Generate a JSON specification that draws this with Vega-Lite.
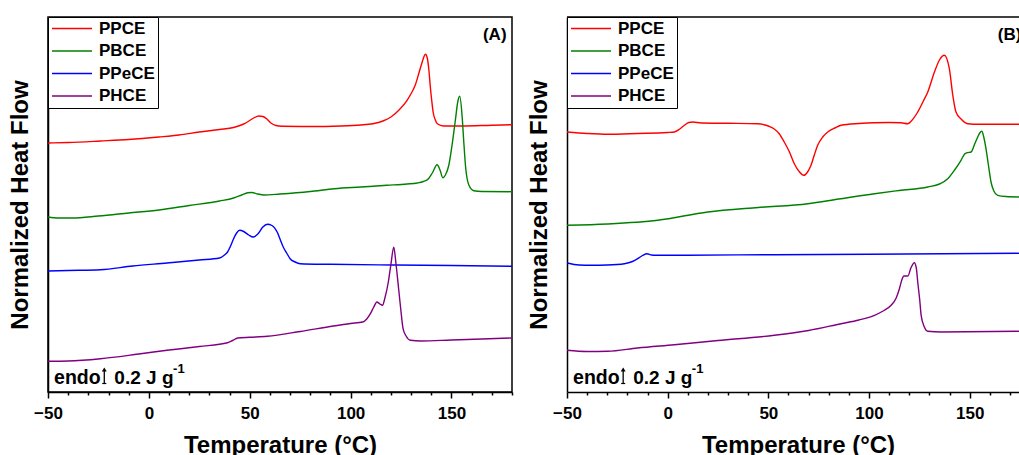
{
"$schema": "https://vega.github.io/schema/vega-lite/v6.json",
"padding": {"left": 7, "top": 15, "right": 0, "bottom": 0},
"background": "white",
"config": {"font": "Liberation Sans", "view": {"stroke": "black", "strokeWidth": 1.5}},
"datasets": {
"A": [
{"s":"PPCE","T":-50,"hf":249},{"s":"PPCE","T":-40,"hf":249.5},{"s":"PPCE","T":-24,"hf":251},{"s":"PPCE","T":-10,"hf":252.5},{"s":"PPCE","T":5,"hf":255},{"s":"PPCE","T":15,"hf":257},{"s":"PPCE","T":25,"hf":260},{"s":"PPCE","T":35,"hf":262.5},{"s":"PPCE","T":42,"hf":264.5},{"s":"PPCE","T":47,"hf":268},{"s":"PPCE","T":50,"hf":271.5},{"s":"PPCE","T":52,"hf":274},{"s":"PPCE","T":54.5,"hf":276},{"s":"PPCE","T":56.5,"hf":275.5},{"s":"PPCE","T":58.5,"hf":273},{"s":"PPCE","T":60.5,"hf":269},{"s":"PPCE","T":63,"hf":266.5},{"s":"PPCE","T":66,"hf":265.7},{"s":"PPCE","T":80,"hf":265.5},{"s":"PPCE","T":95,"hf":266},{"s":"PPCE","T":105,"hf":267},{"s":"PPCE","T":111,"hf":268.3},{"s":"PPCE","T":116,"hf":271},{"s":"PPCE","T":120,"hf":275},{"s":"PPCE","T":124,"hf":282},{"s":"PPCE","T":128,"hf":291.7},{"s":"PPCE","T":130,"hf":298.5},{"s":"PPCE","T":132,"hf":306.7},{"s":"PPCE","T":134,"hf":320},{"s":"PPCE","T":135.5,"hf":330},{"s":"PPCE","T":136.5,"hf":336},{"s":"PPCE","T":137.1,"hf":337.7},{"s":"PPCE","T":138,"hf":334},{"s":"PPCE","T":138.8,"hf":322},{"s":"PPCE","T":139.6,"hf":303.3},{"s":"PPCE","T":140.3,"hf":290},{"s":"PPCE","T":140.9,"hf":280},{"s":"PPCE","T":142,"hf":272},{"s":"PPCE","T":143,"hf":268.3},{"s":"PPCE","T":146,"hf":266},{"s":"PPCE","T":155,"hf":266},{"s":"PPCE","T":170,"hf":266.8},{"s":"PPCE","T":180,"hf":267.3},
{"s":"PBCE","T":-50,"hf":175},{"s":"PBCE","T":-45,"hf":174},{"s":"PBCE","T":-38,"hf":174},{"s":"PBCE","T":-25,"hf":176},{"s":"PBCE","T":-10,"hf":179},{"s":"PBCE","T":5,"hf":182},{"s":"PBCE","T":20,"hf":186.5},{"s":"PBCE","T":35,"hf":191},{"s":"PBCE","T":42,"hf":194},{"s":"PBCE","T":46,"hf":197},{"s":"PBCE","T":49,"hf":199.3},{"s":"PBCE","T":51,"hf":199.5},{"s":"PBCE","T":54,"hf":198},{"s":"PBCE","T":57,"hf":197},{"s":"PBCE","T":65,"hf":198},{"s":"PBCE","T":80,"hf":200.5},{"s":"PBCE","T":92,"hf":203.3},{"s":"PBCE","T":105,"hf":205},{"s":"PBCE","T":118,"hf":206.7},{"s":"PBCE","T":128,"hf":208},{"s":"PBCE","T":133,"hf":209},{"s":"PBCE","T":136,"hf":210.5},{"s":"PBCE","T":138.6,"hf":213.3},{"s":"PBCE","T":140.5,"hf":219},{"s":"PBCE","T":142.9,"hf":227.3},{"s":"PBCE","T":144.3,"hf":222},{"s":"PBCE","T":145.7,"hf":214.3},{"s":"PBCE","T":147,"hf":217},{"s":"PBCE","T":148.7,"hf":227},{"s":"PBCE","T":150.3,"hf":247},{"s":"PBCE","T":152,"hf":273},{"s":"PBCE","T":153.1,"hf":290},{"s":"PBCE","T":154.1,"hf":295.7},{"s":"PBCE","T":155.3,"hf":275},{"s":"PBCE","T":156.1,"hf":250},{"s":"PBCE","T":157,"hf":225},{"s":"PBCE","T":158.6,"hf":207},{"s":"PBCE","T":161.1,"hf":201.3},{"s":"PBCE","T":165,"hf":200.5},{"s":"PBCE","T":180,"hf":200.3},
{"s":"PPeCE","T":-50,"hf":121},{"s":"PPeCE","T":-40,"hf":121.5},{"s":"PPeCE","T":-24,"hf":122.3},{"s":"PPeCE","T":-8,"hf":126},{"s":"PPeCE","T":9,"hf":129},{"s":"PPeCE","T":25,"hf":132},{"s":"PPeCE","T":35,"hf":134},{"s":"PPeCE","T":37.5,"hf":137},{"s":"PPeCE","T":39,"hf":140},{"s":"PPeCE","T":40.5,"hf":146},{"s":"PPeCE","T":42,"hf":153.3},{"s":"PPeCE","T":43.5,"hf":159},{"s":"PPeCE","T":45,"hf":161.7},{"s":"PPeCE","T":47,"hf":160.5},{"s":"PPeCE","T":49.5,"hf":157},{"s":"PPeCE","T":51.7,"hf":155},{"s":"PPeCE","T":54,"hf":158},{"s":"PPeCE","T":56.5,"hf":165},{"s":"PPeCE","T":58.7,"hf":167.7},{"s":"PPeCE","T":61,"hf":166.5},{"s":"PPeCE","T":63.6,"hf":160},{"s":"PPeCE","T":65,"hf":153},{"s":"PPeCE","T":66.6,"hf":145},{"s":"PPeCE","T":68.3,"hf":139},{"s":"PPeCE","T":70,"hf":133.3},{"s":"PPeCE","T":72.5,"hf":130},{"s":"PPeCE","T":75,"hf":128.3},{"s":"PPeCE","T":90,"hf":127.7},{"s":"PPeCE","T":120,"hf":127},{"s":"PPeCE","T":150,"hf":126.5},{"s":"PPeCE","T":180,"hf":125.7},
{"s":"PHCE","T":-50,"hf":30.7},{"s":"PHCE","T":-40,"hf":31},{"s":"PHCE","T":-24,"hf":33.3},{"s":"PHCE","T":-5,"hf":38},{"s":"PHCE","T":9,"hf":41.7},{"s":"PHCE","T":25,"hf":45.5},{"s":"PHCE","T":39,"hf":49.3},{"s":"PHCE","T":41.5,"hf":51.5},{"s":"PHCE","T":44,"hf":54},{"s":"PHCE","T":50,"hf":54.7},{"s":"PHCE","T":58.7,"hf":55.7},{"s":"PHCE","T":75,"hf":60.5},{"s":"PHCE","T":91.5,"hf":66},{"s":"PHCE","T":100,"hf":68.5},{"s":"PHCE","T":106,"hf":70},{"s":"PHCE","T":108,"hf":73},{"s":"PHCE","T":109.8,"hf":78.3},{"s":"PHCE","T":111.5,"hf":85},{"s":"PHCE","T":113,"hf":90},{"s":"PHCE","T":114.5,"hf":88},{"s":"PHCE","T":115.8,"hf":86.7},{"s":"PHCE","T":117,"hf":94},{"s":"PHCE","T":118.7,"hf":110},{"s":"PHCE","T":120,"hf":128},{"s":"PHCE","T":121.4,"hf":144.7},{"s":"PHCE","T":122.5,"hf":128},{"s":"PHCE","T":123.8,"hf":103.3},{"s":"PHCE","T":125,"hf":80},{"s":"PHCE","T":126,"hf":63.3},{"s":"PHCE","T":127.5,"hf":56},{"s":"PHCE","T":129.6,"hf":51.7},{"s":"PHCE","T":135,"hf":51},{"s":"PHCE","T":150,"hf":52},{"s":"PHCE","T":180,"hf":54}
],
"B": [
{"s":"PPCE","T":-50,"hf":260},{"s":"PPCE","T":-40,"hf":258.5},{"s":"PPCE","T":-29.8,"hf":257.7},{"s":"PPCE","T":-15,"hf":258.5},{"s":"PPCE","T":0,"hf":259.5},{"s":"PPCE","T":3.3,"hf":260},{"s":"PPCE","T":6,"hf":263},{"s":"PPCE","T":8.3,"hf":266.7},{"s":"PPCE","T":10.5,"hf":269.5},{"s":"PPCE","T":12.4,"hf":270},{"s":"PPCE","T":16.6,"hf":269},{"s":"PPCE","T":30,"hf":268.7},{"s":"PPCE","T":44.7,"hf":268.3},{"s":"PPCE","T":50,"hf":266},{"s":"PPCE","T":52.8,"hf":263.3},{"s":"PPCE","T":55.5,"hf":258},{"s":"PPCE","T":57.9,"hf":250},{"s":"PPCE","T":60.5,"hf":240},{"s":"PPCE","T":62.9,"hf":228.3},{"s":"PPCE","T":65.5,"hf":220},{"s":"PPCE","T":67.6,"hf":216.7},{"s":"PPCE","T":69.5,"hf":220},{"s":"PPCE","T":71.2,"hf":226.7},{"s":"PPCE","T":73,"hf":238},{"s":"PPCE","T":74.5,"hf":246.7},{"s":"PPCE","T":77,"hf":255},{"s":"PPCE","T":79.5,"hf":260},{"s":"PPCE","T":83,"hf":264},{"s":"PPCE","T":86.1,"hf":266.7},{"s":"PPCE","T":95,"hf":268.5},{"s":"PPCE","T":102.7,"hf":269.3},{"s":"PPCE","T":110,"hf":269.5},{"s":"PPCE","T":115.9,"hf":269.3},{"s":"PPCE","T":119.2,"hf":268.3},{"s":"PPCE","T":121,"hf":271},{"s":"PPCE","T":124.2,"hf":280},{"s":"PPCE","T":127,"hf":291},{"s":"PPCE","T":129.2,"hf":300},{"s":"PPCE","T":132.5,"hf":320},{"s":"PPCE","T":135,"hf":332},{"s":"PPCE","T":137.4,"hf":336.7},{"s":"PPCE","T":139.9,"hf":323.3},{"s":"PPCE","T":141.6,"hf":297},{"s":"PPCE","T":143.2,"hf":280},{"s":"PPCE","T":145.7,"hf":273},{"s":"PPCE","T":149.1,"hf":268.3},{"s":"PPCE","T":155,"hf":267.7},{"s":"PPCE","T":175,"hf":267.7},
{"s":"PBCE","T":-50,"hf":166.7},{"s":"PBCE","T":-30,"hf":168},{"s":"PBCE","T":-4.9,"hf":171.7},{"s":"PBCE","T":19.9,"hf":180},{"s":"PBCE","T":45,"hf":184.5},{"s":"PBCE","T":69.6,"hf":188.3},{"s":"PBCE","T":85,"hf":193},{"s":"PBCE","T":102.7,"hf":198.3},{"s":"PBCE","T":115,"hf":201.5},{"s":"PBCE","T":129.2,"hf":205},{"s":"PBCE","T":135,"hf":208},{"s":"PBCE","T":139.1,"hf":213.3},{"s":"PBCE","T":142.5,"hf":222},{"s":"PBCE","T":145.7,"hf":231.7},{"s":"PBCE","T":147.5,"hf":238},{"s":"PBCE","T":148.7,"hf":239.3},{"s":"PBCE","T":150.7,"hf":240},{"s":"PBCE","T":152.3,"hf":247},{"s":"PBCE","T":154,"hf":255},{"s":"PBCE","T":155,"hf":259},{"s":"PBCE","T":156,"hf":260.7},{"s":"PBCE","T":157,"hf":255},{"s":"PBCE","T":158.1,"hf":243.3},{"s":"PBCE","T":159.3,"hf":227},{"s":"PBCE","T":160.6,"hf":210},{"s":"PBCE","T":162,"hf":201},{"s":"PBCE","T":163.9,"hf":196.7},{"s":"PBCE","T":168,"hf":195.5},{"s":"PBCE","T":175,"hf":195},
{"s":"PPeCE","T":-50,"hf":129},{"s":"PPeCE","T":-44,"hf":127},{"s":"PPeCE","T":-38.1,"hf":126.7},{"s":"PPeCE","T":-30,"hf":127},{"s":"PPeCE","T":-21.5,"hf":128.3},{"s":"PPeCE","T":-17.5,"hf":130.5},{"s":"PPeCE","T":-14.9,"hf":133.3},{"s":"PPeCE","T":-12.5,"hf":136.5},{"s":"PPeCE","T":-10.3,"hf":138.3},{"s":"PPeCE","T":-8,"hf":137},{"s":"PPeCE","T":-5.8,"hf":136.7},{"s":"PPeCE","T":10,"hf":136.8},{"s":"PPeCE","T":53,"hf":137.3},{"s":"PPeCE","T":100,"hf":137.7},{"s":"PPeCE","T":175,"hf":138.7},
{"s":"PHCE","T":-50,"hf":41.7},{"s":"PHCE","T":-40,"hf":40.5},{"s":"PHCE","T":-29.8,"hf":40.7},{"s":"PHCE","T":-15,"hf":44},{"s":"PHCE","T":3.3,"hf":47.3},{"s":"PHCE","T":25,"hf":51.5},{"s":"PHCE","T":53,"hf":56.7},{"s":"PHCE","T":70,"hf":61.5},{"s":"PHCE","T":86.1,"hf":68.3},{"s":"PHCE","T":95,"hf":72},{"s":"PHCE","T":102.7,"hf":76.7},{"s":"PHCE","T":107,"hf":81},{"s":"PHCE","T":111,"hf":86.7},{"s":"PHCE","T":113.5,"hf":94},{"s":"PHCE","T":115.1,"hf":103.3},{"s":"PHCE","T":116.3,"hf":112},{"s":"PHCE","T":117.3,"hf":116},{"s":"PHCE","T":119.3,"hf":116},{"s":"PHCE","T":120.8,"hf":124},{"s":"PHCE","T":122.5,"hf":129.3},{"s":"PHCE","T":123.5,"hf":124},{"s":"PHCE","T":124.2,"hf":110},{"s":"PHCE","T":125.2,"hf":92},{"s":"PHCE","T":125.9,"hf":76.7},{"s":"PHCE","T":127.5,"hf":65},{"s":"PHCE","T":129.2,"hf":60.7},{"s":"PHCE","T":135.8,"hf":60},{"s":"PHCE","T":175,"hf":60.7}
]
},
"hconcat": [
{
"width": 464, "height": 375,
"resolve": {"axis": {"x": "independent"}},
"layer": [
{
"data": {"name": "A"},
"mark": {"type": "line", "interpolate": "monotone", "strokeWidth": 1.4},
"encoding": {
"x": {"field": "T", "type": "quantitative", "scale": {"domain": [-50, 180], "nice": false, "zero": false},
"axis": {"orient": "bottom", "title": "Temperature (°C)", "values": [-50, 0, 50, 100, 150], "labelFlush": false, "labelOverlap": false,
"labelFontSize": 17, "labelFontWeight": "bold", "labelColor": "black", "labelPadding": 7, "tickSize": 6,
"tickColor": "black", "tickWidth": 1.5, "domainColor": "black", "domainWidth": 1.5, "grid": false,
"titleFontSize": 24, "titleFontWeight": "bold", "titleColor": "black", "titlePadding": 12}},
"y": {"field": "hf", "type": "quantitative", "scale": {"domain": [0, 375], "nice": false, "zero": false},
"axis": {"title": "Normalized Heat Flow", "labels": false, "ticks": false, "grid": false, "domainColor": "black", "domainWidth": 1.5,
"titleFontSize": 24, "titleFontWeight": "bold", "titleColor": "black", "titlePadding": 16}},
"color": {"field": "s", "type": "nominal", "scale": {"domain": ["PPCE","PBCE","PPeCE","PHCE"], "range": ["#ff0000","#008000","#0000ff","#800080"]},
"legend": {"title": null, "orient": "top-left", "offset": 0, "symbolType": "stroke", "symbolSize": 1600, "symbolStrokeWidth": 1.5, "clipHeight": 17,
"labelFontSize": 17, "labelFontWeight": "bold", "labelColor": "black", "labelOffset": 6, "rowPadding": 4.5, "padding": 3,
"strokeColor": "black", "fillColor": "white"}}
}
},
{"data": {"values": [{}]}, "mark": {"type": "text", "text": "endo", "align": "left", "baseline": "alphabetic", "fontSize": 19.5, "fontWeight": "bold", "color": "black"},
"encoding": {"x": {"datum": -47, "axis": {"orient": "bottom", "values": [-40,-30,-20,-10,10,20,30,40,60,70,80,90,110,120,130,140,160,170,180], "labels": false, "domain": false, "grid": false, "title": null, "tickSize": 3, "tickColor": "black", "tickWidth": 1.5}}, "y": {"datum": 8.3}}},
{"data": {"values": [{}]}, "mark": {"type": "text", "text": "(A)", "align": "right", "baseline": "middle", "fontSize": 17, "fontWeight": "bold", "color": "black"},
"encoding": {"x": {"datum": 177.3, "axis": null}, "y": {"datum": 357}}},
{"data": {"values": [{}]}, "mark": {"type": "rule", "color": "black", "strokeWidth": 1.3},
"encoding": {"x": {"datum": -22.1, "axis": null}, "y": {"datum": 8.3}, "y2": {"datum": 22}}},
{"data": {"values": [{}]}, "mark": {"type": "rule", "color": "black", "strokeWidth": 1.2},
"encoding": {"x": {"datum": -23.1, "axis": null}, "x2": {"datum": -21.1}, "y": {"datum": 8.5}}},
{"data": {"values": [{}]}, "mark": {"type": "point", "shape": "triangle-up", "filled": true, "size": 24, "color": "black", "opacity": 1},
"encoding": {"x": {"datum": -22.1, "axis": null}, "y": {"datum": 22.5}}},
{"data": {"values": [{}]}, "mark": {"type": "text", "text": "0.2 J g", "align": "left", "baseline": "alphabetic", "fontSize": 19, "fontWeight": "bold", "color": "black"},
"encoding": {"x": {"datum": -17.1, "axis": null}, "y": {"datum": 8.3}}},
{"data": {"values": [{}]}, "mark": {"type": "text", "text": "-1", "align": "left", "baseline": "alphabetic", "fontSize": 13, "fontWeight": "bold", "color": "black"},
"encoding": {"x": {"datum": 12, "axis": null}, "y": {"datum": 19}}}
]
},
{
"width": 452, "height": 375,
"view": {"stroke": null},
"resolve": {"axis": {"x": "independent"}},
"layer": [
{
"data": {"name": "B"},
"mark": {"type": "line", "interpolate": "monotone", "strokeWidth": 1.4},
"encoding": {
"x": {"field": "T", "type": "quantitative", "scale": {"domain": [-50, 174.5], "nice": false, "zero": false},
"axis": {"orient": "bottom", "title": "Temperature (°C)", "values": [-50, 0, 50, 100, 150], "labelFlush": false, "labelOverlap": false,
"labelFontSize": 17, "labelFontWeight": "bold", "labelColor": "black", "labelPadding": 7, "tickSize": 6,
"tickColor": "black", "tickWidth": 1.5, "domainColor": "black", "domainWidth": 1.5, "grid": false,
"titleFontSize": 24, "titleFontWeight": "bold", "titleColor": "black", "titlePadding": 12, "titleX": 231}},
"y": {"field": "hf", "type": "quantitative", "scale": {"domain": [0, 375], "nice": false, "zero": false},
"axis": {"title": "Normalized Heat Flow", "labels": false, "ticks": false, "grid": false, "domainColor": "black", "domainWidth": 1.5,
"titleFontSize": 24, "titleFontWeight": "bold", "titleColor": "black", "titlePadding": 16}},
"color": {"field": "s", "type": "nominal", "scale": {"domain": ["PPCE","PBCE","PPeCE","PHCE"], "range": ["#ff0000","#008000","#0000ff","#800080"]},
"legend": {"title": null, "orient": "top-left", "offset": 0, "symbolType": "stroke", "symbolSize": 1600, "symbolStrokeWidth": 1.5, "clipHeight": 17,
"labelFontSize": 17, "labelFontWeight": "bold", "labelColor": "black", "labelOffset": 6, "rowPadding": 4.5, "padding": 3,
"strokeColor": "black", "fillColor": "white"}}
}
},
{"data": {"values": [{}]}, "mark": {"type": "text", "text": "endo", "align": "left", "baseline": "alphabetic", "fontSize": 19.5, "fontWeight": "bold", "color": "black"},
"encoding": {"x": {"datum": -47, "axis": {"orient": "bottom", "values": [-40,-30,-20,-10,10,20,30,40,60,70,80,90,110,120,130,140,160,170], "labels": false, "domain": false, "grid": false, "title": null, "tickSize": 3, "tickColor": "black", "tickWidth": 1.5}}, "y": {"datum": 8.3}}},
{"data": {"values": [{}]}, "mark": {"type": "rule", "color": "black", "strokeWidth": 1.5},
"encoding": {"x": {"datum": -50, "axis": null}, "x2": {"datum": 174.5}, "y": {"datum": 375}}},
{"data": {"values": [{}]}, "mark": {"type": "text", "text": "(B)", "align": "left", "baseline": "middle", "fontSize": 17, "fontWeight": "bold", "color": "black", "clip": true},
"encoding": {"x": {"datum": 164, "axis": null}, "y": {"datum": 357}}},
{"data": {"values": [{}]}, "mark": {"type": "rule", "color": "black", "strokeWidth": 1.3},
"encoding": {"x": {"datum": -22.1, "axis": null}, "y": {"datum": 8.3}, "y2": {"datum": 22}}},
{"data": {"values": [{}]}, "mark": {"type": "rule", "color": "black", "strokeWidth": 1.2},
"encoding": {"x": {"datum": -23.1, "axis": null}, "x2": {"datum": -21.1}, "y": {"datum": 8.5}}},
{"data": {"values": [{}]}, "mark": {"type": "point", "shape": "triangle-up", "filled": true, "size": 24, "color": "black", "opacity": 1},
"encoding": {"x": {"datum": -22.1, "axis": null}, "y": {"datum": 22.5}}},
{"data": {"values": [{}]}, "mark": {"type": "text", "text": "0.2 J g", "align": "left", "baseline": "alphabetic", "fontSize": 19, "fontWeight": "bold", "color": "black"},
"encoding": {"x": {"datum": -17.1, "axis": null}, "y": {"datum": 8.3}}},
{"data": {"values": [{}]}, "mark": {"type": "text", "text": "-1", "align": "left", "baseline": "alphabetic", "fontSize": 13, "fontWeight": "bold", "color": "black"},
"encoding": {"x": {"datum": 12, "axis": null}, "y": {"datum": 19}}}
]
}
],
"spacing": 11,
"resolve": {"scale": {"color": "independent"}, "legend": {"color": "independent"}}
}
